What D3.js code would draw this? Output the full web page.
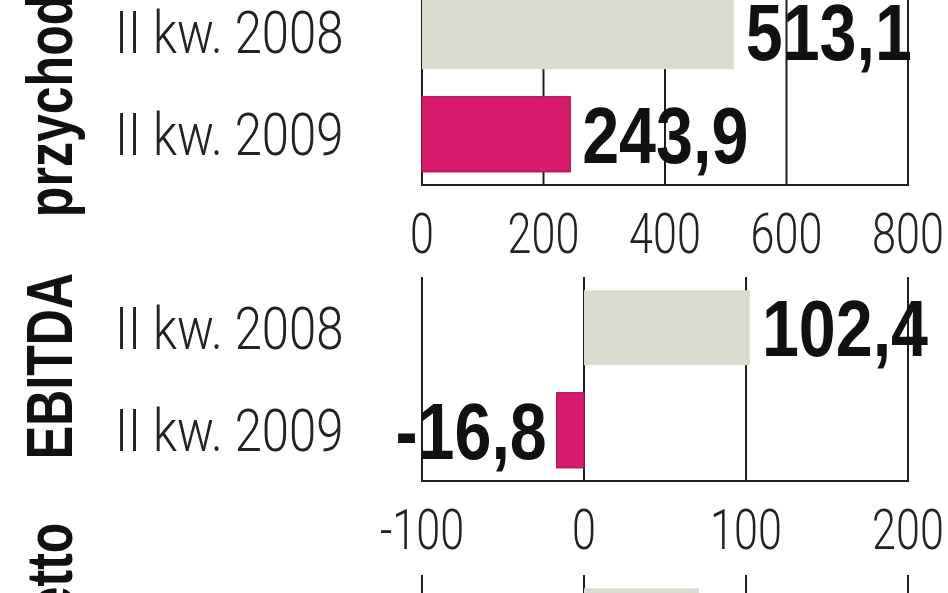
<!DOCTYPE html>
<html>
<head>
<meta charset="utf-8">
<script src="https://cdn.jsdelivr.net/npm/d3@7"></script>
<style>
  html, body { margin: 0; padding: 0; background: #ffffff; }
  svg { display: block; }
</style>
</head>
<body>
<svg id="chart" width="948" height="593"></svg>
<script>
// ---- data ----
const panelTitles = ["przychody", "EBITDA", "zysk netto"];
const categories = ["II kw. 2008", "II kw. 2009"];
const przychody = [513.1, 243.9];
const ebitda = [102.4, -16.8];
const zyskNetto = [71, null]; // 2009 value lies outside the visible crop
const ticksPrzychody = [0, 200, 400, 600, 800];
const ticksEbitda = [-100, 0, 100, 200];
const ticksNetto = [-100, 0, 100, 200];

// ---- layout / style ----
const W = 948, H = 593;
const colors = ["#dcdbcf", "#d81b6c"];
const strokeColors = [null, "#b8145c"];
const panels = [
  { title: panelTitles[0], values: przychody, ticks: ticksPrzychody, baseline: 185, titleCenter: 92 },
  { title: panelTitles[1], values: ebitda, ticks: ticksEbitda, baseline: 481, titleCenter: 366 },
  { title: panelTitles[2], values: zyskNetto, ticks: ticksNetto, baseline: 779, titleCenter: 645 }
];
const plotLeft = 422, plotRight = 908, plotHeight = 204;

const boldFont = "'Liberation Sans', Arial, sans-serif";
const lightFont = "Roboto, 'Liberation Sans', sans-serif";

const svg = d3.select("#chart");
svg.append("rect").attr("width", W).attr("height", H).attr("fill", "#fff");

function condense(sel, factor) {
  sel.each(function () {
    const w = this.getComputedTextLength();
    d3.select(this).attr("textLength", w * factor).attr("lengthAdjust", "spacingAndGlyphs");
  });
}

const fmt = v => d3.format(".1f")(v).replace(".", ",").replace("\u2212", "-");

panels.forEach(p => {
  const b = p.baseline;
  const domain = [p.ticks[0], p.ticks[p.ticks.length - 1]];
  const x = d3.scaleLinear().domain(domain).range([plotLeft, plotRight]);
  const y = d3.scaleBand().domain(categories).range([b - plotHeight, b])
    .paddingInner(0.27).paddingOuter(0.13);

  const g = svg.append("g");

  // gridlines
  g.selectAll("line.grid").data(p.ticks).join("line")
    .attr("class", "grid")
    .attr("x1", d => x(d)).attr("x2", d => x(d))
    .attr("y1", b - plotHeight).attr("y2", b)
    .attr("stroke", "#1e1e1e").attr("stroke-width", 2);
  // baseline
  g.append("line")
    .attr("x1", x.range()[0] - 1).attr("x2", x.range()[1] + 1)
    .attr("y1", b).attr("y2", b)
    .attr("stroke", "#1e1e1e").attr("stroke-width", 2);

  // tick labels
  const tickSize = 56;
  g.selectAll("text.tick").data(p.ticks).join("text")
    .attr("class", "tick")
    .attr("x", d => x(d)).attr("y", b + 48 + tickSize * 0.711 / 2)
    .attr("text-anchor", "middle")
    .attr("font-family", lightFont).attr("font-weight", 300)
    .attr("font-size", tickSize).attr("fill", "#222")
    .text(d => d)
    .call(condense, 0.77);

  const data = categories.map((c, i) => ({ c, i, v: p.values[i] })).filter(d => d.v != null);

  // bars
  g.selectAll("rect.bar").data(data).join("rect")
    .attr("class", "bar")
    .attr("x", d => x(Math.min(0, d.v)))
    .attr("width", d => Math.abs(x(d.v) - x(0)))
    .attr("y", d => y(d.c))
    .attr("height", y.bandwidth())
    .attr("fill", d => colors[d.i])
    .attr("stroke", d => strokeColors[d.i] || "none")
    .attr("stroke-width", 1.5);

  // category labels
  const catSize = 59;
  g.selectAll("text.cat").data(categories).join("text")
    .attr("class", "cat")
    .attr("x", 115)
    .attr("y", d => y(d) + y.bandwidth() / 2 + catSize * 0.711 / 2)
    .attr("font-family", lightFont).attr("font-weight", 300)
    .attr("font-size", catSize).attr("fill", "#222")
    .text(d => d)
    .call(condense, 0.83);

  // value labels
  const valSize = 80;
  g.selectAll("text.val").data(data).join("text")
    .attr("class", "val")
    .attr("x", d => d.v >= 0 ? x(d.v) + 12 : x(d.v) - 10)
    .attr("y", d => y(d.c) + y.bandwidth() / 2 + valSize * 0.716 / 2)
    .attr("text-anchor", d => d.v >= 0 ? "start" : "end")
    .attr("font-family", boldFont).attr("font-weight", 700)
    .attr("font-size", valSize).attr("fill", "#111")
    .text(d => fmt(d.v))
    .call(condense, 0.83);

  // rotated panel title
  g.append("text")
    .attr("transform", `translate(72,${p.titleCenter}) rotate(-90)`)
    .attr("text-anchor", "middle")
    .attr("font-family", boldFont).attr("font-weight", 700)
    .attr("font-size", 65).attr("fill", "#111")
    .text(p.title)
    .call(condense, 0.77);
});
</script>
</body>
</html>
